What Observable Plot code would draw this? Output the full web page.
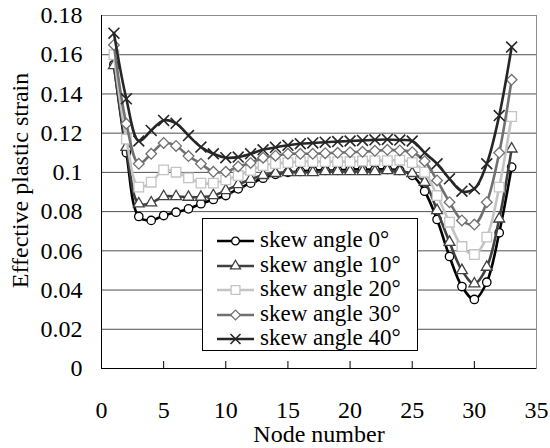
<!DOCTYPE html>
<html>
<head>
<meta charset="utf-8">
<script src="https://cdn.jsdelivr.net/npm/d3@7"></script>
<script src="https://cdn.jsdelivr.net/npm/@observablehq/plot@0.6"></script>
<style>
  body { margin: 0; background: #fff; }
  #wrap { position: relative; width: 550px; height: 448px; font-family: "Liberation Serif", "Times New Roman", serif; }
  #legend { position: absolute; left: 202px; top: 218px; width: 216px; height: 133px; background: #fff; border: 1px solid #000; box-sizing: border-box; }
  .row { position: absolute; left: 0; height: 24px; line-height: 24px; font-size: 23px; white-space: nowrap; color: #000; font-family: "Liberation Serif", serif; }
  .row svg { position: absolute; left: 12px; top: 0; }
  .row span { position: absolute; left: 57px; top: -1px; font-family: "Liberation Serif", serif; }
</style>
</head>
<body>
<div id="wrap"></div>
<script>
// ---- data ----
const nodes = [1,2,3,4,5,6,7,8,9,10,11,12,13,14,15,16,17,18,19,20,21,22,23,24,25,26,27,28,29,30,31,32,33];
const seriesNames = ["skew angle 0°", "skew angle 10°", "skew angle 20°", "skew angle 30°", "skew angle 40°"];
const skew0  = [0.155,0.110,0.0775,0.0755,0.078,0.0797,0.0814,0.084,0.0862,0.0882,0.0916,0.0945,0.097,0.099,0.100,0.1005,0.101,0.101,0.101,0.1015,0.1015,0.1015,0.1015,0.101,0.0985,0.0904,0.076,0.0571,0.0418,0.0352,0.044,0.0692,0.1027];
const skew10 = [0.1545,0.1128,0.084,0.0845,0.0877,0.0877,0.0874,0.0874,0.0882,0.0908,0.0938,0.0965,0.0985,0.0995,0.100,0.100,0.100,0.1005,0.1005,0.1005,0.1005,0.1005,0.101,0.1005,0.0995,0.095,0.0806,0.0644,0.050,0.0432,0.0517,0.0763,0.112];
const skew20 = [0.160,0.117,0.0925,0.095,0.1013,0.1001,0.0972,0.0945,0.0945,0.0962,0.0984,0.101,0.1035,0.1045,0.105,0.1055,0.1055,0.1055,0.1055,0.1055,0.1058,0.106,0.106,0.1062,0.105,0.1001,0.0882,0.0746,0.0622,0.0581,0.067,0.0925,0.1285];
const skew30 = [0.165,0.1248,0.1044,0.1095,0.115,0.1135,0.1083,0.1044,0.1003,0.1003,0.103,0.1048,0.1075,0.1085,0.1095,0.1095,0.1095,0.1098,0.110,0.1103,0.1105,0.111,0.1115,0.1112,0.1103,0.1057,0.0959,0.0848,0.0755,0.0734,0.0848,0.110,0.1472];
const skew40 = [0.171,0.1375,0.116,0.1214,0.1265,0.125,0.1188,0.1129,0.1095,0.1075,0.1078,0.1095,0.1115,0.1128,0.1138,0.1146,0.115,0.1154,0.1157,0.116,0.1163,0.1166,0.1168,0.1165,0.116,0.110,0.1044,0.0967,0.0904,0.0916,0.1044,0.129,0.1639];
const xTicks = [0,5,10,15,20,25,30,35];
const yTicks = [0,0.02,0.04,0.06,0.08,0.1,0.12,0.14,0.16,0.18];
const xTitle = "Node number";
const yTitle = "Effective plastic strain";

// ---- styles ----
const colors  = ["#000000", "#404040", "#c4c4c4", "#707070", "#262626"];
const symbols = ["circle", "triangle2", "square", "diamond2", "times"];
const radii   = [4.2, 5.2, 5.4, 4.8, 5];

const allValues = [skew0, skew10, skew20, skew30, skew40];
const seriesData = allValues.map((vals, i) => nodes.map((n, j) => ({node: n, value: vals[j], series: seriesNames[i]})));

const font = "Liberation Serif";
const marks = [
  Plot.gridY(yTicks.filter(d => d > 0 && d < 0.18), {stroke: "#505050", strokeOpacity: 1, strokeWidth: 1}),
  Plot.frame({stroke: "#8c8c8c"}),
  Plot.ruleY([0], {stroke: "#000"}),
  Plot.ruleX([0], {stroke: "#000"}),
  Plot.ruleX(xTicks.filter(d => d > 0 && d < 35), {x: d => d, y1: 0, y2: 0, insetTop: -7, stroke: "#000"}),
  Plot.axisY({ticks: yTicks, tickSize: 0, tickPadding: 19, fontSize: 24, fontFamily: font, tickFormat: d => String(+d.toFixed(2)), label: null}),
  Plot.axisX({ticks: xTicks, tickSize: 0, tickPadding: 32, fontSize: 24, fontFamily: font, tickFormat: d => String(d), label: null}),
  Plot.text([xTitle], {frameAnchor: "bottom", textAnchor: "middle", dy: 66, fontSize: 24, fontFamily: font, lineAnchor: "middle"}),
  Plot.text([yTitle], {frameAnchor: "left", textAnchor: "middle", rotate: -90, dx: -81, dy: -11.5, fontSize: 24, fontFamily: font, lineAnchor: "middle"})
];
seriesData.forEach((rows, i) => {
  marks.push(Plot.line(rows, {x: "node", y: "value", stroke: colors[i], strokeWidth: 2.6, curve: "catmull-rom"}));
  marks.push(Plot.dot(rows, {x: "node", y: "value", symbol: symbols[i], r: radii[i], stroke: colors[i], fill: "white", strokeWidth: i === 4 ? 1.6 : 1.3}));
});

const chart = Plot.plot({
  width: 550,
  height: 448,
  marginLeft: 101,
  marginRight: 14,
  marginTop: 15,
  marginBottom: 80,
  style: "font-family: 'Liberation Serif', serif; font-size: 24px; color: #000; background: #fff;",
  x: {domain: [0, 35]},
  y: {domain: [0, 0.18]},
  marks
});
const wrap = document.getElementById("wrap");
wrap.appendChild(chart);

// ---- legend ----
const legend = document.createElement("div");
legend.id = "legend";
wrap.appendChild(legend);
const typeMap = {circle: d3.symbolCircle, triangle2: d3.symbolTriangle2, square: d3.symbolSquare, diamond2: d3.symbolDiamond2, times: d3.symbolTimes};
seriesNames.forEach((name, i) => {
  const row = document.createElement("div");
  row.className = "row";
  row.style.top = (10 + i * 24.5) + "px";
  row.style.width = "214px";
  const svg = d3.create("svg").attr("width", 40).attr("height", 24);
  svg.append("line").attr("x1", 2).attr("x2", 39).attr("y1", 12).attr("y2", 12).attr("stroke", colors[i]).attr("stroke-width", 2.6);
  svg.append("path").attr("transform", "translate(20.5,12)")
    .attr("d", d3.symbol(typeMap[symbols[i]], Math.PI * radii[i] * radii[i] * 0.85)())
    .attr("fill", "white").attr("stroke", colors[i]).attr("stroke-width", i === 4 ? 1.6 : 1.3);
  row.appendChild(svg.node());
  const span = document.createElement("span");
  span.textContent = name;
  row.appendChild(span);
  legend.appendChild(row);
});
</script>
</body>
</html>
